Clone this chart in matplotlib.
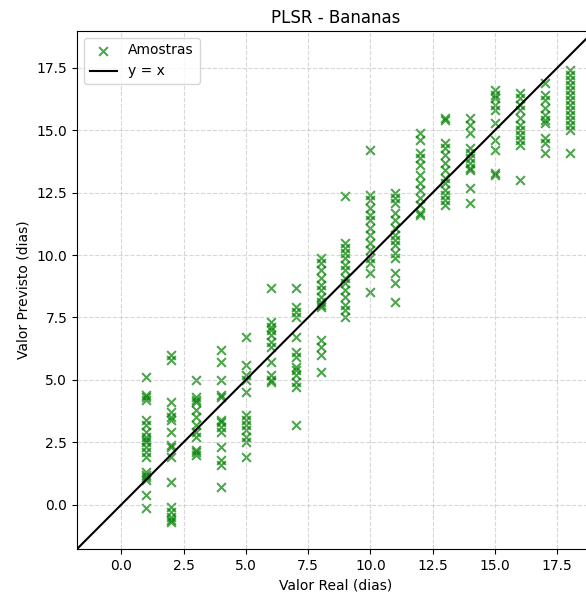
import numpy as np
import matplotlib.pyplot as plt

plt.rcParams["font.size"] = 10

# predicted values, one list per real day
pred_d1 = [5.1, 4.4, 4.2, 4.3, 3.4, 3.2, 2.9, 2.7, 2.6, 2.5, 2.3, 2.1, 1.9, 1.3, 1.2, 1.0, 1.1, 0.4, -0.15]
pred_d2 = [6.0, 5.8, 4.1, 3.7, 3.5, 3.4, 2.9, 2.4, 2.3, 1.9, 0.9, -0.1, -0.3, -0.5, -0.7, -0.6]
pred_d3 = [5.0, 4.3, 4.2, 4.1, 3.8, 3.5, 3.2, 2.9, 2.7, 2.2, 2.1, 2.0]
pred_d4 = [6.2, 5.7, 5.0, 4.4, 4.3, 3.4, 3.3, 3.1, 2.9, 2.3, 1.8, 1.6, 0.7]
pred_d5 = [6.7, 5.6, 5.2, 5.0, 4.5, 3.6, 3.4, 3.2, 3.0, 2.7, 2.5, 1.9]
pred_d6 = [8.7, 7.3, 7.1, 7.0, 6.8, 6.5, 6.3, 5.7, 5.2, 5.0, 4.9]
pred_d7 = [8.7, 7.9, 7.7, 7.5, 6.7, 6.1, 5.9, 5.5, 5.4, 5.2, 4.9, 4.7, 3.2]
pred_d8 = [9.9, 9.7, 9.4, 9.1, 8.8, 8.6, 8.3, 8.1, 8.0, 7.9, 6.6, 6.3, 6.0, 5.3]
pred_d9 = [12.35, 10.5, 10.3, 10.1, 9.9, 9.6, 9.4, 9.1, 8.9, 8.6, 8.3, 8.0, 7.8, 7.5]
pred_d10 = [14.2, 12.4, 12.2, 11.9, 11.6, 11.4, 11.1, 10.8, 10.5, 10.2, 9.9, 9.7, 9.3, 8.5]
pred_d11 = [12.5, 12.3, 12.1, 11.7, 11.4, 11.1, 10.8, 10.6, 10.4, 10.1, 9.9, 9.3, 8.9, 8.1]
pred_d12 = [14.9, 14.6, 14.1, 13.9, 13.6, 13.2, 12.9, 12.6, 12.3, 12.0, 11.7, 11.6]
pred_d13 = [15.5, 15.4, 14.5, 14.3, 14.0, 13.7, 13.4, 13.1, 12.9, 12.6, 12.4, 12.2, 12.0]
pred_d14 = [15.5, 15.2, 14.9, 14.3, 14.1, 13.9, 13.7, 13.5, 13.4, 12.7, 12.1]
pred_d15 = [16.6, 16.4, 16.3, 16.0, 15.8, 15.3, 14.6, 14.2, 13.3, 13.2]
pred_d16 = [16.5, 16.3, 16.0, 15.8, 15.5, 15.2, 15.0, 14.8, 14.6, 14.4, 13.0]
pred_d17 = [16.9, 16.4, 16.2, 15.9, 15.6, 15.4, 15.3, 14.7, 14.5, 14.1]
pred_d18 = [17.4, 17.2, 17.0, 16.8, 16.6, 16.4, 16.2, 16.0, 15.8, 15.6, 15.4, 15.2, 15.0, 14.1]

real_days = list(range(1, 19))
pred_lists = [pred_d1, pred_d2, pred_d3, pred_d4, pred_d5, pred_d6, pred_d7, pred_d8, pred_d9,
              pred_d10, pred_d11, pred_d12, pred_d13, pred_d14, pred_d15, pred_d16, pred_d17, pred_d18]

y_real = np.concatenate([[d] * len(p) for d, p in zip(real_days, pred_lists)])
y_pred = np.concatenate(pred_lists)

lims = [-1.78, 18.98]

fig = plt.figure(figsize=(5.86, 5.97), dpi=100)
ax = fig.add_axes([77 / 586, 1 - 549 / 597, 517 / 586, 518 / 597])

ax.scatter(y_real, y_pred, marker="x", color="green", alpha=0.7, s=40, label="Amostras")
ax.plot(lims, lims, color="black", linewidth=1.5, label="y = x")

ax.set_xlim(lims)
ax.set_ylim(lims)
ax.set_xlabel("Valor Real (dias)")
ax.set_ylabel("Valor Previsto (dias)")
ax.set_title("PLSR - Bananas", fontsize=12)
ax.grid(True, linestyle="--", alpha=0.5)
ax.legend(loc="upper left")

fig.savefig("out.png")
